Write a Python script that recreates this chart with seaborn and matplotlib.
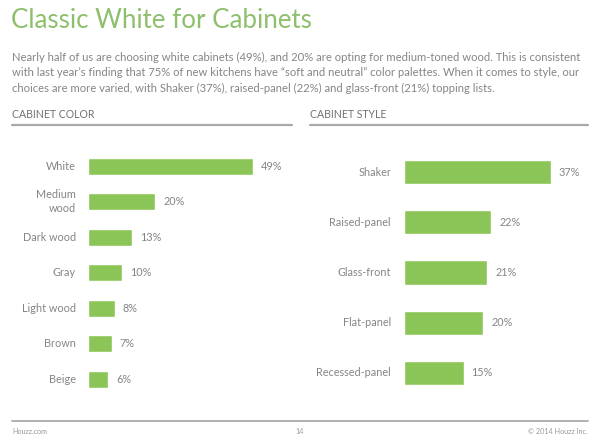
import matplotlib
matplotlib.use('Agg')
import matplotlib.pyplot as plt
import seaborn as sns
import pandas as pd

color_labels = ['White', 'Medium\nwood', 'Dark wood', 'Gray', 'Light wood', 'Brown', 'Beige']
color_values = [49, 20, 13, 10, 8, 7, 6]

style_labels = ['Shaker', 'Raised-panel', 'Glass-front', 'Flat-panel', 'Recessed-panel']
style_values = [37, 22, 21, 20, 15]

title = 'Classic White for Cabinets'
intro = [
    'Nearly half of us are choosing white cabinets (49%), and 20% are opting for medium-toned wood. This is consistent',
    'with last year\u2019s finding that 75% of new kitchens have \u201csoft and neutral\u201d color palettes. When it comes to style, our',
    'choices are more varied, with Shaker (37%), raised-panel (22%) and glass-front (21%) topping lists.',
]

sns.set_theme(style='white')
plt.rcParams['font.family'] = ['Lato', 'DejaVu Sans']

GREEN = '#8cc557'
GRAY = '#858585'
W, H = 600, 446

fig = plt.figure(figsize=(6, 4.46), dpi=100)
fig.patch.set_facecolor('white')


def fx(px):
    return px / W


def fy(py):
    return 1 - py / H


# header text
fig.text(fx(11), fy(21), title, color='#8dbf6c', fontsize=18.6, va='center')
for i, line in enumerate(intro):
    fig.text(fx(12), fy(57 + i * 15.5), line, color=GRAY, fontsize=8.1, va='center')

# section headers with rules
for x0, x1, txt in [(12, 292, 'CABINET COLOR'), (310, 588, 'CABINET STYLE')]:
    fig.text(fx(x0), fy(115), txt, color='#707070', fontsize=7.6, va='center')
    fig.add_artist(plt.Line2D([fx(x0), fx(x1)], [fy(125), fy(125)], color='#aaaaaa', lw=1.6))

# footer
fig.add_artist(plt.Line2D([fx(12), fx(588)], [fy(421), fy(421)], color='#b0b0b0', lw=1.4))
fig.text(fx(12), fy(432), 'Houzz.com', color='#999999', fontsize=5.2, va='center')
fig.text(fx(300), fy(432), '14', color='#999999', fontsize=5.2, va='center', ha='center')
fig.text(fx(588), fy(432), '\u00a9 2014 Houzz Inc.', color='#999999', fontsize=5.2, va='center', ha='right')


def draw_panel(labels, values, left, top, bottom, px_per_unit, xmax, label_pad):
    width_px = xmax * px_per_unit
    ax = fig.add_axes([fx(left), fy(bottom), width_px / W, (bottom - top) / H])
    df = pd.DataFrame({'label': labels, 'value': values})
    sns.barplot(data=df, x='value', y='label', color=GREEN, saturation=1, width=0.48, ax=ax)
    ax.set_xlim(0, xmax)
    ax.set_xlabel('')
    ax.set_ylabel('')
    ax.set_xticks([])
    ax.set_yticks([])
    sns.despine(ax=ax, left=True, bottom=True)
    # category labels, right-aligned (also within multi-line labels)
    ytrans = ax.get_yaxis_transform()
    for i, lab in enumerate(labels):
        ax.text(-label_pad / width_px, i, lab, transform=ytrans, ha='right', va='center',
                multialignment='right', linespacing=1.35, color=GRAY, fontsize=7.8)
    for i, v in enumerate(values):
        ax.text(v + 8 / px_per_unit, i, f'{v}%', va='center', ha='left', color=GRAY, fontsize=7.8)
    ax.set_facecolor('none')
    return ax


draw_panel(color_labels, color_values, left=88, top=148.5, bottom=397, px_per_unit=3.37, xmax=60, label_pad=12)
draw_panel(style_labels, style_values, left=404, top=147, bottom=398, px_per_unit=3.97, xmax=45, label_pad=13)

fig.savefig('out.png', dpi=100, facecolor='white')
